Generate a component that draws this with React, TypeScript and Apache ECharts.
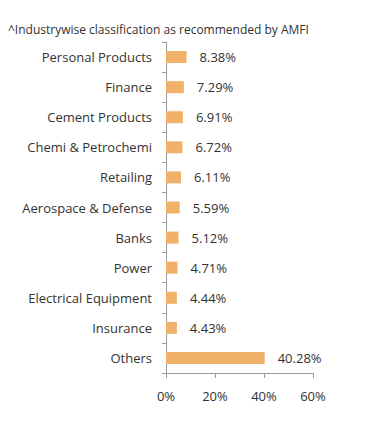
import React, { useEffect, useRef } from "react";
import * as echarts from "echarts";

const categories = [
  "Personal Products",
  "Finance",
  "Cement Products",
  "Chemi & Petrochemi",
  "Retailing",
  "Aerospace & Defense",
  "Banks",
  "Power",
  "Electrical Equipment",
  "Insurance",
  "Others",
];
const values = [8.38, 7.29, 6.91, 6.72, 6.11, 5.59, 5.12, 4.71, 4.44, 4.43, 40.28];
const titleText = "^Industrywise classification as recommended by AMFI";

const FONT = "Open Sans";
const TXT = "#333";

export default function App() {
  const ref = useRef<HTMLDivElement>(null);
  useEffect(() => {
    const chart = echarts.init(ref.current!, null, { renderer: "svg" });
    chart.setOption({
      animation: false,
      textStyle: { fontFamily: FONT },
      graphic: [
        {
          type: "text",
          left: 8,
          top: 23,
          style: { text: titleText, fontSize: 12, fill: TXT, fontFamily: FONT },
        },
      ],
      grid: { left: 166, right: 78, top: 42, bottom: 54, containLabel: false },
      xAxis: {
        type: "value",
        min: 0,
        max: 60,
        interval: 20,
        axisLine: { show: true, lineStyle: { color: "#9a9a9a" } },
        axisTick: { show: true, length: 5, lineStyle: { color: "#9a9a9a" } },
        splitLine: { show: false },
        axisLabel: { formatter: "{value}%", color: TXT, fontSize: 13, margin: 16, fontFamily: FONT },
      },
      yAxis: {
        type: "category",
        inverse: true,
        data: categories,
        axisLine: { show: true, lineStyle: { color: "#9a9a9a" } },
        axisTick: { show: true, length: 4, lineStyle: { color: "#9a9a9a" } },
        axisLabel: { color: TXT, fontSize: 13, margin: 14, fontFamily: FONT },
      },
      series: [
        {
          type: "bar",
          data: values,
          barWidth: 12,
          itemStyle: { color: "#F0B26B" },
          label: {
            show: true,
            position: "right",
            distance: 13,
            formatter: (p: any) => p.value.toFixed(2) + "%",
            color: TXT,
            fontSize: 13,
            fontFamily: FONT,
          },
        },
      ],
    });
    return () => chart.dispose();
  }, []);
  return <div ref={ref} style={{ width: 391, height: 427, margin: -8 }} />;
}
